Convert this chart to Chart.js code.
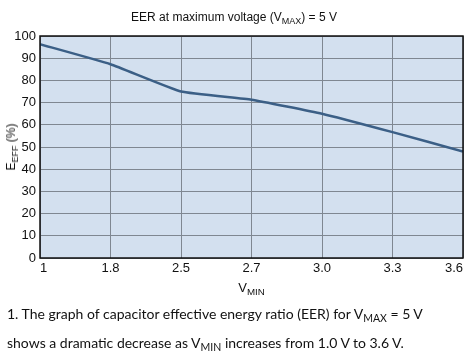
<!DOCTYPE html>
<html>
<head>
<meta charset="utf-8">
<script src="https://cdn.jsdelivr.net/npm/chart.js@4.4.0/dist/chart.umd.min.js"></script>
<style>
  html, body { margin:0; padding:0; background:#fff; }
  #wrap { position:relative; width:473px; height:356px; overflow:hidden; }
  canvas { position:absolute; left:0; top:0; }
  .t { position:absolute; color:#111; white-space:nowrap; font-family:"Liberation Sans", Arial, sans-serif; }
  sub { font-size:75%; vertical-align:-0.3em; line-height:0; }
  #title { left:0; width:468px; text-align:center; top:10px; font-size:12px; }
  #xlab { left:40px; width:423px; text-align:center; top:280px; font-size:13px; }
  #ylab { left:11px; top:147px; font-size:12px; transform:translate(-50%,-50%) rotate(-90deg); }
  #cap { left:7px; top:299px; font-size:14px; line-height:29px; font-family:"Lato", sans-serif; color:#111; }
</style>
</head>
<body>
<div id="wrap">
  <canvas id="c" width="473" height="356"></canvas>
  <div class="t" id="title">EER at maximum voltage (V<sub>MAX</sub>) = 5 V</div>
  <div class="t" id="ylab">E<sub>EFF</sub> (%)</div>
  <div class="t" id="xlab">V<sub>MIN</sub></div>
  <div class="t" id="cap">1. The graph of capacitor effective energy ratio (EER) for V<sub>MAX</sub> = 5 V<br>shows a dramatic decrease as V<sub>MIN</sub> increases from 1.0 V to 3.6 V.</div>
</div>
<script>
const categories = ["1", "1.8", "2.5", "2.7", "3.0", "3.3", "3.6"];
const eerValues = [96.3, 87.3, 75.0, 71.3, 65.0, 56.7, 48.0];
const yTicks = [0, 10, 20, 30, 40, 50, 60, 70, 80, 90, 100];

const bgPlugin = {
  id: 'plotBg',
  beforeDraw(chart) {
    const {ctx, chartArea:a} = chart;
    ctx.save();
    ctx.fillStyle = '#d3e0ef';
    ctx.fillRect(a.left, a.top, a.right - a.left, a.bottom - a.top);
    ctx.restore();
  },
  afterDraw(chart) {
    const {ctx, chartArea:a} = chart;
    ctx.save();
    ctx.strokeStyle = '#111';
    ctx.lineWidth = 1.5;
    ctx.strokeRect(a.left, a.top, a.right - a.left, a.bottom - a.top);
    ctx.restore();
  }
};

new Chart(document.getElementById('c'), {
  type: 'line',
  data: {
    datasets: [{
      data: eerValues.map((v, i) => ({x: i, y: v})),
      borderColor: '#3b5f86',
      borderWidth: 2.5,
      pointRadius: 0,
      fill: false,
      tension: 0.12
    }]
  },
  options: {
    responsive: false,
    animation: false,
    devicePixelRatio: 1,
    layout: { padding: { top: 36, right: 10, bottom: 68, left: 0 } },
    plugins: { legend: { display: false }, tooltip: { enabled: false } },
    scales: {
      x: {
        type: 'linear', min: 0, max: categories.length - 1,
        afterFit: s => { s.height = 30; },
        afterBuildTicks: s => { s.ticks = categories.map((c, i) => ({value: i})); },
        grid: { color: '#7f8791', lineWidth: 1, drawTicks: false },
        border: { display: false },
        ticks: {
          align: 'inner', padding: 3, color: '#111',
          font: { family: 'Liberation Sans', size: 13 },
          callback: (v) => categories[v]
        }
      },
      y: {
        min: 0, max: 100,
        afterFit: s => { s.width = 40; },
        afterBuildTicks: s => { s.ticks = yTicks.map(v => ({value: v})); },
        grid: { color: '#7f8791', lineWidth: 1, drawTicks: false },
        border: { display: false },
        ticks: {
          padding: 4, color: '#111',
          font: { family: 'Liberation Sans', size: 13 }
        }
      }
    }
  },
  plugins: [bgPlugin]
});
</script>
</body>
</html>
